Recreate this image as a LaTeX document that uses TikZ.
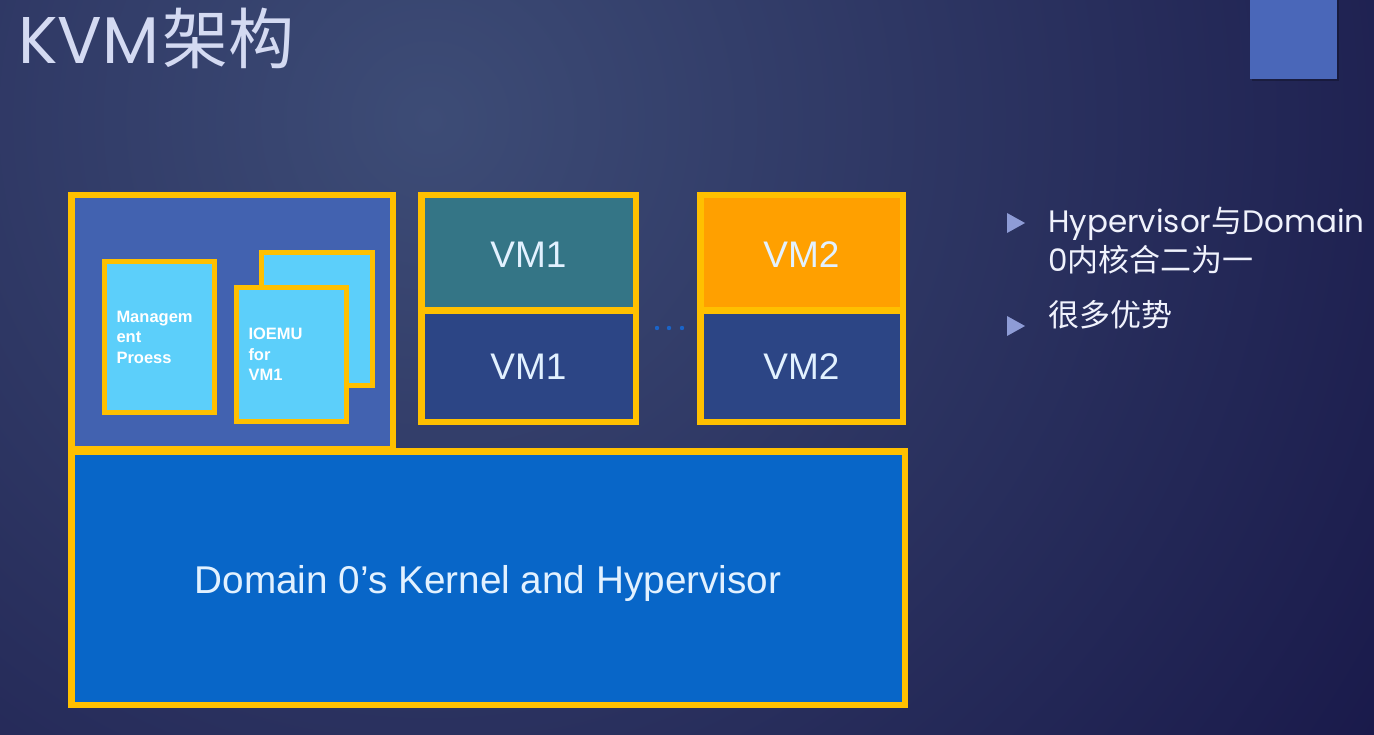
\documentclass[tikz,border=0pt]{standalone}
\usepackage{fontspec}
\setmainfont{Liberation Sans}
\newfontfamily\gothic{Poppins}
\newfontfamily\cjk{Noto Sans CJK SC}
\usepackage{tikz}
\usetikzlibrary{shapes,positioning,backgrounds,calc}

\definecolor{bgin}{HTML}{3D4C76}
\definecolor{bgout}{HTML}{19194A}
\definecolor{kvmyellow}{HTML}{FFC000}
\definecolor{domfill}{HTML}{4262B0}
\definecolor{kernfill}{HTML}{0866C8}
\definecolor{tealfill}{HTML}{347586}
\definecolor{vmfill}{HTML}{2C4585}
\definecolor{orangefill}{HTML}{FFA000}
\definecolor{procfill}{HTML}{5CCFFA}
\definecolor{vmtext}{HTML}{E2F1FF}
\definecolor{titletext}{HTML}{D4DAF2}
\definecolor{bullettext}{HTML}{F0F2FC}
\definecolor{bulletmark}{HTML}{8E9CD6}
\definecolor{cornerblue}{HTML}{4A67B9}
\definecolor{dotblue}{HTML}{1A64C8}

\begin{document}
\begin{tikzpicture}[x=1pt,y=-1pt,
        frame/.style={rectangle, draw=kvmyellow, line width=6.5pt, inner sep=0pt},
        vmlabel/.style={font=\fontsize{37}{40}\selectfont, text=vmtext},
        procbox/.style={rectangle, draw=kvmyellow, line width=5pt, fill=procfill, text=white,
            align=left, text width=86pt, inner sep=0pt, font=\bfseries\fontsize{16.5}{20.5}\selectfont},
        bulletline/.style={anchor=base west, inner sep=0pt, align=left, text=bullettext,
            font=\gothic\fontsize{31}{39}\selectfont}
    ]
    \useasboundingbox (0,0) rectangle (1374,735);

    % slide background
    \begin{scope}
        \clip (0,0) rectangle (1374,735);
        \shade[inner color=bgin, outer color=bgout] (430,120) circle (1150);
        \fill[black, opacity=0.25] (1252,0) rectangle (1339,81);
        \fill[cornerblue] (1250,0) rectangle (1337,79);
    \end{scope}

    \node [anchor=base west, inner sep=0pt, text=titletext, font=\gothic\fontsize{66}{70}\selectfont] (title) at (18,64) {KVM\hspace{3pt}{\cjk 架构}};

    % domain 0 and the kernel
    \node [frame, fill=domfill, minimum width=321.5pt, minimum height=253.5pt] (dom0) at (232,322) {};
    \node [frame, fill=kernfill, minimum width=833.5pt, minimum height=253.5pt] (kernel) at (488,578) {};
    \node [vmlabel, font=\fontsize{38.7}{40}\selectfont, anchor=base] (kernellabel) at ($(kernel.center)+(0,15)$) {Domain 0's Kernel and Hypervisor};

    \node [procbox, minimum width=110pt, minimum height=151pt] (mgmt) at (159.5,337) {Managem\\ent\\Proess};
    \node [procbox, minimum width=111pt, minimum height=133pt] (ioemuback) at (317,319) {};
    \node [procbox, minimum width=110pt, minimum height=134pt] (ioemu) at (291.5,354.5) {IOEMU\\for\\VM1};

    % guest machines
    \node [frame, fill=tealfill, minimum width=214.5pt, minimum height=115.5pt] (vm1top) at (528.5,253) {};
    \node [frame, fill=vmfill, minimum width=214.5pt, minimum height=110.5pt] (vm1bot) at (528.5,366.5) {};
    \node [frame, fill=orangefill, minimum width=202.5pt, minimum height=115.5pt] (vm2top) at (801.5,253) {};
    \node [frame, fill=vmfill, minimum width=202.5pt, minimum height=110.5pt] (vm2bot) at (801.5,366.5) {};
    \node [vmlabel] at ($(vm1top.center)+(0,2)$) {VM1};
    \node [vmlabel] at (vm1bot.center) {VM1};
    \node [vmlabel] at ($(vm2top.center)+(0,2)$) {VM2};
    \node [vmlabel] at (vm2bot.center) {VM2};

    \foreach \x in {657,669,682}
        \fill[dotblue] (\x,328) circle (2.2pt);

    % bullets
    \foreach \y in {223,326}
        \fill[bulletmark] (1007,\y-10) -- (1025,\y) -- (1007,\y+10) -- cycle;
    \node [bulletline] (point1) at (1048,272) {Hypervisor{\cjk 与}Domain\\0{\cjk 内核合二为一}};
    \node [bulletline] (point2) at (1048,327) {{\cjk 很多优势}};
\end{tikzpicture}
\end{document}
